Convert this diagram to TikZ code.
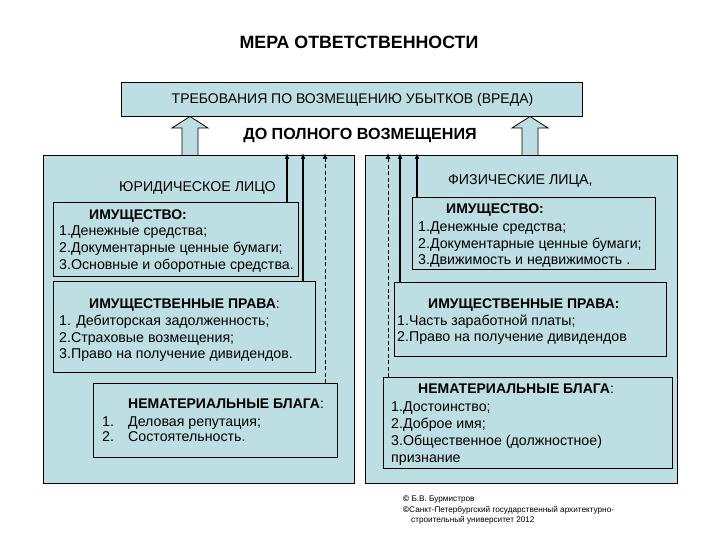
\documentclass[tikz,border=0pt]{standalone}
\usepackage{fontspec}
\setmainfont{Liberation Sans}
\usetikzlibrary{arrows.meta}
\definecolor{panelblue}{HTML}{BDDEE3}
\begin{document}
\begin{tikzpicture}[x=1pt,y=-1pt,
  box/.style={draw=black,line width=0.8pt,fill=panelblue,inner sep=0pt,outer sep=0pt},
  txt/.style={inner sep=0pt,anchor=base west,font=\fontsize{14.2}{16}\selectfont},
  btxt/.style={txt,font=\fontsize{14}{16}\selectfont\bfseries},
  head/.style={inner sep=0pt,font=\fontsize{16.1}{18}\selectfont\bfseries},
  small/.style={inner sep=0pt,anchor=base west,font=\fontsize{8.2}{9}\selectfont},
  solidarr/.style={line width=1.4pt,-{Latex[length=6pt,width=5pt]}},
  dasharr/.style={line width=0.9pt,dash pattern=on 4pt off 2.5pt,-{Latex[length=6pt,width=5pt]}},
  hollow/.style={draw=black,line width=0.8pt,fill=panelblue}]
\useasboundingbox (0,0) rectangle (720,540);
\fill[white] (0,0) rectangle (720,540);

% title
\node[inner sep=0pt,font=\fontsize{17.8}{20}\selectfont\bfseries] (title) at (359,42) {МЕРА ОТВЕТСТВЕННОСТИ};

% top box
\node[box,minimum width=461,minimum height=34] (top) at (351.5,99.5) {};
\node[inner sep=0pt,font=\fontsize{14}{16}\selectfont] (toptxt) at (352.5,100) {ТРЕБОВАНИЯ ПО ВОЗМЕЩЕНИЮ УБЫТКОВ (ВРЕДА)};
\node[head] (full) at (360,135.5) {ДО ПОЛНОГО ВОЗМЕЩЕНИЯ};

% hollow arrows
\draw[hollow] (182,156) -- (182,128) -- (172,128) -- (190,116.5) -- (208,128) -- (198,128) -- (198,156) -- cycle;
\draw[hollow] (522,156) -- (522,128) -- (512,128) -- (530,116.5) -- (548,128) -- (538,128) -- (538,156) -- cycle;

% panels
\node[box,minimum width=311,minimum height=328] (lp) at (198.5,319) {};
\node[box,minimum width=312,minimum height=328] (rp) at (521,319) {};

% ---------- left panel ----------
\node[txt] (ltitle) at (119,192) {ЮРИДИЧЕСКОЕ ЛИЦО};

\node[box,minimum width=245,minimum height=74] (lb1) at (175.5,239) {};
\node[btxt] (lb1h) at (89,219) {ИМУЩЕСТВО:};
\node[txt] (lb1a) at (59,236) {1.Денежные средства;};
\node[txt] (lb1b) at (59,252.5) {2.Документарные ценные бумаги;};
\node[txt] (lb1c) at (59,269) {3.Основные и оборотные средства.};

\node[box,minimum width=262,minimum height=91] (lb2) at (184,326.5) {};
\node[txt] (lb2h) at (89,308) {\fontsize{14}{16}\selectfont\textbf{ИМУЩЕСТВЕННЫЕ ПРАВА}:};
\node[txt] (lb2a) at (59,325.5) {1. Дебиторская задолженность;};
\node[txt] (lb2b) at (59,342) {2.Страховые возмещения;};
\node[txt] (lb2c) at (59,358.5) {3.Право на получение дивидендов.};

\node[box,minimum width=244,minimum height=74] (lb3) at (215,420) {};
\node[txt] (lb3h) at (128,408) {\fontsize{14}{16}\selectfont\textbf{НЕМАТЕРИАЛЬНЫЕ БЛАГА}:};
\node[txt] (lb3n1) at (102,426) {1.};
\node[txt] (lb3a) at (128,426) {Деловая репутация;};
\node[txt] (lb3n2) at (102,441.5) {2.};
\node[txt] (lb3b) at (128,441.5) {Состоятельность.};

\coordinate (la1) at (287,153);
\coordinate (la2) at (303,153);
\coordinate (la3) at (325,153);
\draw[solidarr] (la1 |- lb1.north) -- (la1);
\draw[solidarr] (la2 |- lb2.north) -- (la2);
\draw[dasharr] (la3 |- lb3.north) -- (la3);

% ---------- right panel ----------
\node[txt] (rtitle) at (448,184.5) {ФИЗИЧЕСКИЕ ЛИЦА,};

\node[box,minimum width=243,minimum height=72] (rb1) at (533.5,233) {};
\node[btxt] (rb1h) at (446,213.5) {ИМУЩЕСТВО:};
\node[txt] (rb1a) at (418,231.5) {1.Денежные средства;};
\node[txt] (rb1b) at (418,248) {2.Документарные ценные бумаги;};
\node[txt] (rb1c) at (418,264.5) {3.Движимость и недвижимость .};

\node[box,minimum width=272,minimum height=74] (rb2) at (530,319) {};
\node[btxt] (rb2h) at (428,308.5) {ИМУЩЕСТВЕННЫЕ ПРАВА:};
\node[txt] (rb2a) at (397,325.5) {1.Часть заработной платы;};
\node[txt] (rb2b) at (397,341) {2.Право на получение дивидендов};

\node[box,minimum width=289,minimum height=91] (rb3) at (527.5,422.5) {};
\node[txt] (rb3h) at (418,393.5) {\fontsize{14}{16}\selectfont\textbf{НЕМАТЕРИАЛЬНЫЕ БЛАГА}:};
\node[txt] (rb3a) at (391,411.5) {1.Достоинство;};
\node[txt] (rb3b) at (391,428) {2.Доброе имя;};
\node[txt] (rb3c) at (391,445) {3.Общественное (должностное)};
\node[txt] (rb3d) at (391,462) {признание};

\coordinate (ra1) at (388,153);
\coordinate (ra2) at (400,153);
\coordinate (ra3) at (417,153);
\draw[dasharr] (ra1 |- rb3.north) -- (ra1);
\draw[solidarr] (ra2 |- rb2.north) -- (ra2);
\draw[solidarr] (ra3 |- rb1.north) -- (ra3);

% copyright
\node[small] (c1) at (403,501) {\textbf{©} Б.В. Бурмистров};
\node[small] (c2) at (403,512) {\textbf{©}Санкт-Петербургский государственный архитектурно-};
\node[small] (c3) at (411,522) {строительный университет 2012};
\end{tikzpicture}
\end{document}
